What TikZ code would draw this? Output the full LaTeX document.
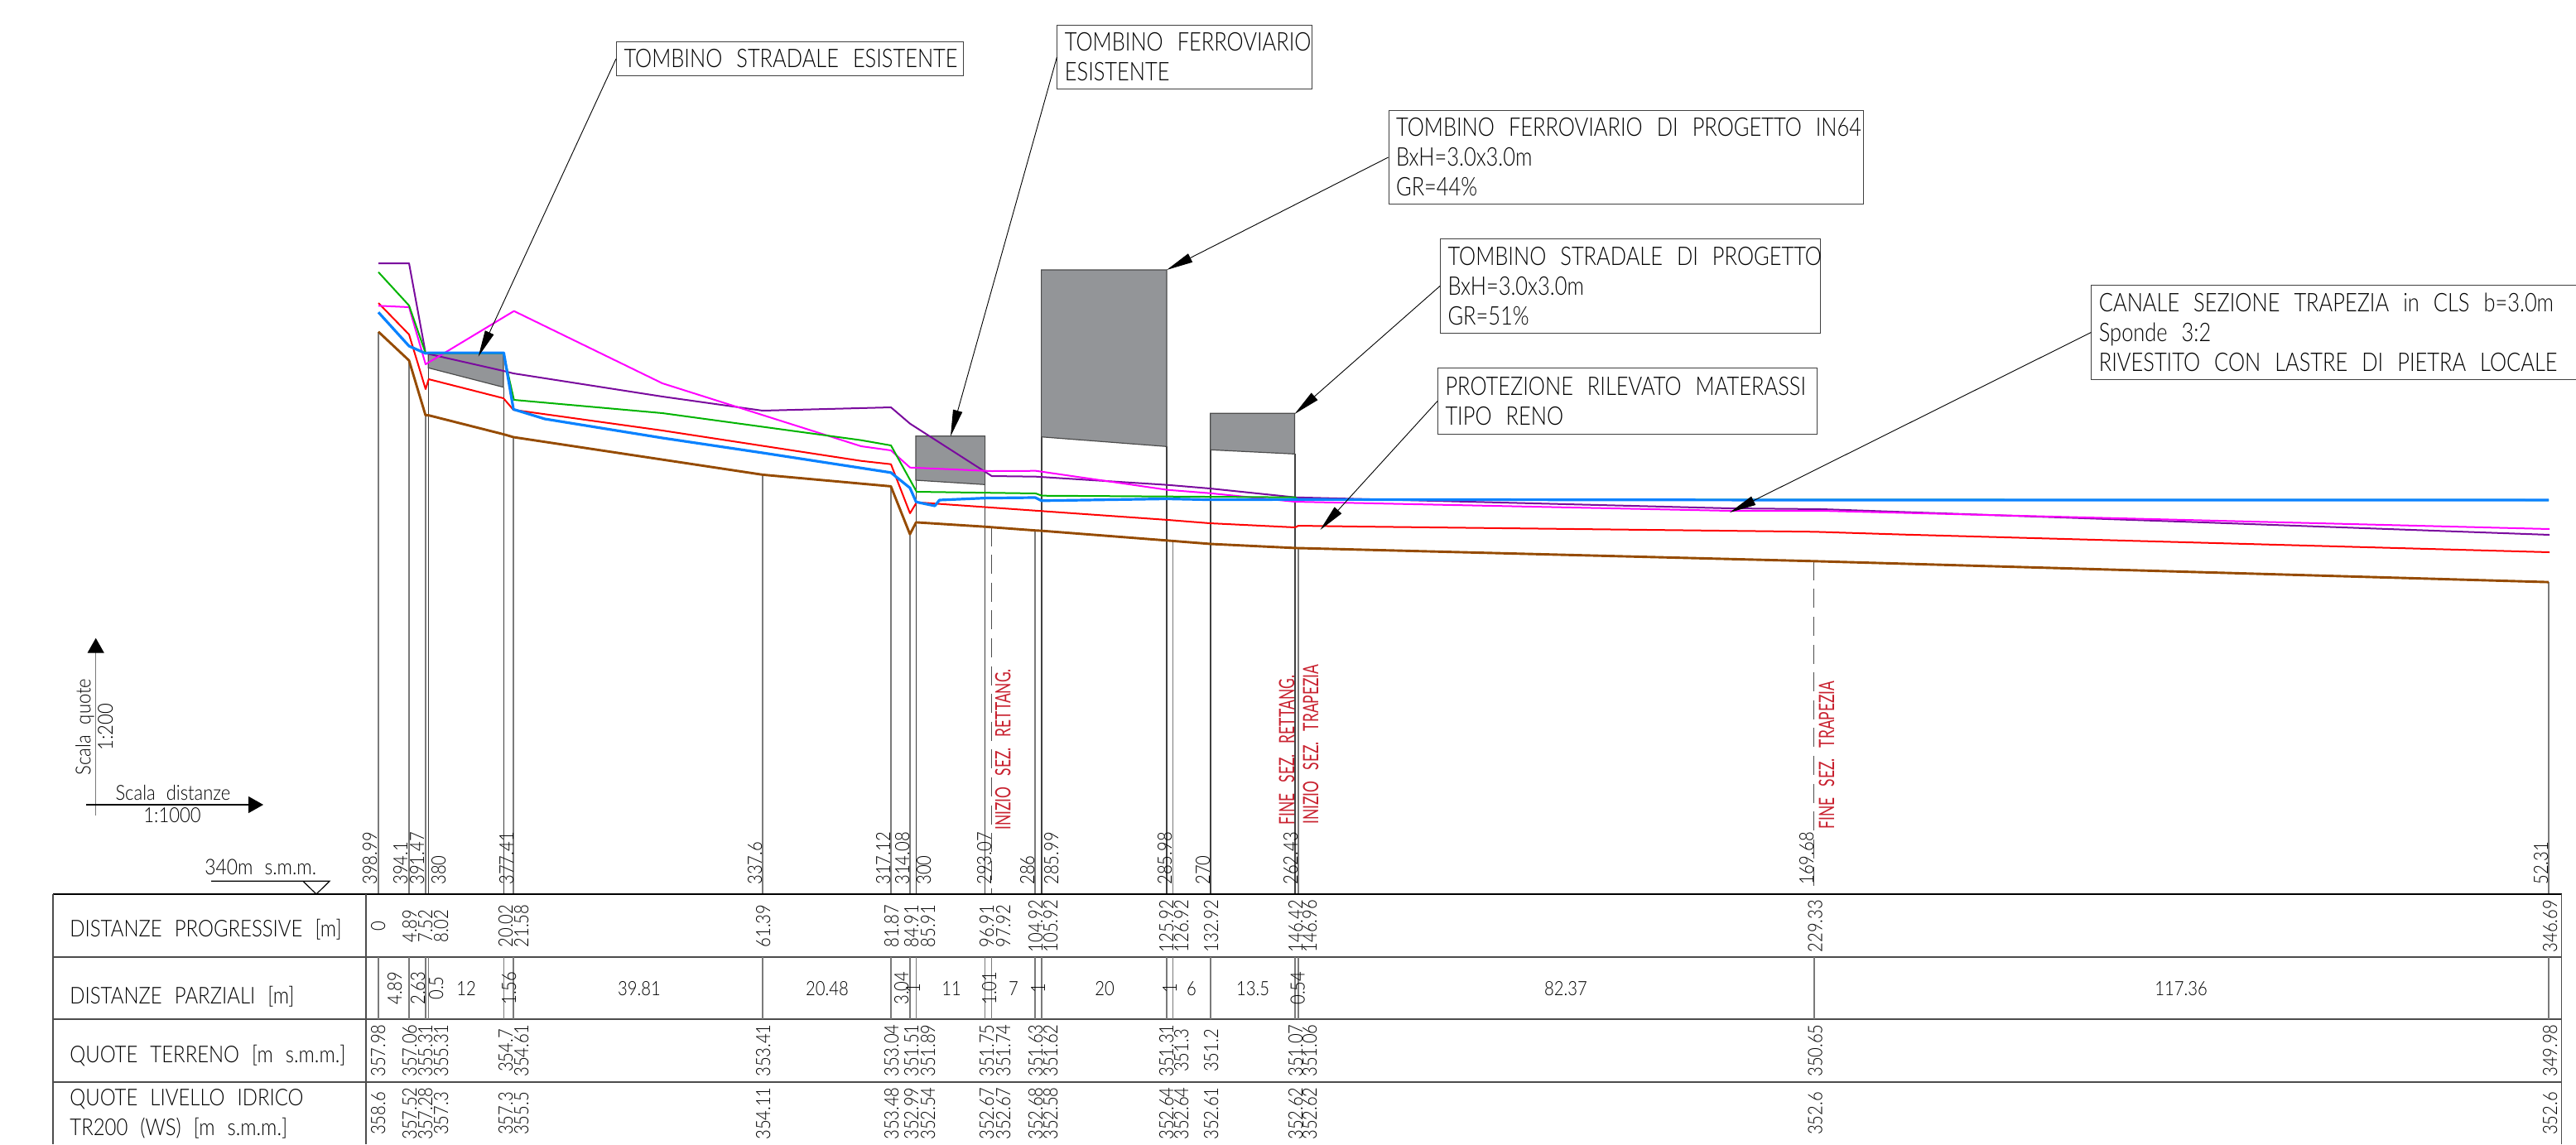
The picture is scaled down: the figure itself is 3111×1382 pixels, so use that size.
\documentclass[tikz,border=0pt]{standalone}
\usepackage{fontspec}
\usetikzlibrary{arrows.meta}
\setmainfont{Lato Light}
\newfontfamily\lblf[FakeStretch=.855]{Lato Light}
\newfontfamily\callf[FakeStretch=.82]{Lato Light}
\newfontfamily\numf[FakeStretch=.85]{Lato Light}
\newfontfamily\sclf[FakeStretch=.88]{Lato Light}
\newfontfamily\redf[FakeStretch=.68]{Lato}
\definecolor{ink}{HTML}{000000}
\definecolor{stn}{HTML}{7A7A7A}
\definecolor{fillgray}{HTML}{939598}
\definecolor{pPurple}{HTML}{7A0A9E}
\definecolor{pGreen}{HTML}{00B400}
\definecolor{pRed}{HTML}{FF0000}
\definecolor{pMag}{HTML}{FF00FF}
\definecolor{pBlue}{HTML}{0A82FF}
\definecolor{pBrown}{HTML}{964B00}
\definecolor{redtxt}{HTML}{C8202E}
\newcommand\gapA{\spaceskip 7.5pt\relax}
\newcommand\gapB{\spaceskip 6.5pt\relax}
\newcommand\gapC{\spaceskip 8.5pt\relax}
\newcommand\gapD{\spaceskip 7pt\relax}
\tikzset{
  stnline/.style={draw=stn,line width=.8pt},
  stndark/.style={draw=black!75,line width=.7pt},
  stndash/.style={draw=black!70,line width=.7pt,dash pattern=on 11.5pt off 5.3pt},
  tbl/.style={draw=black!70,line width=.8pt},
  tbltop/.style={draw=black,line width=.8pt},
  numv/.style={rotate=90,inner sep=0pt,text=ink,font=\numf\fontsize{11.9}{14}\selectfont},
  stnlab/.style={numv,anchor=base west},
  rowlab/.style={numv,anchor=base},
  numh/.style={inner sep=0pt,text=ink,anchor=base,font=\numf\fontsize{11.9}{14}\selectfont},
  rowhead/.style={inner sep=0pt,anchor=base west,text=ink,font=\lblf\fontsize{14}{18}\selectfont,execute at begin node=\gapA},
  redlab/.style={rotate=90,inner sep=0pt,anchor=base west,text=redtxt,font=\redf\fontsize{12.8}{14}\selectfont,execute at begin node=\gapB},
  callout/.style={draw=black!75,line width=.5pt,anchor=north west,inner xsep=4.5pt,inner ysep=0pt,align=left,text=ink,font=\callf\fontsize{15.5}{18}\selectfont,execute at begin node=\gapC},
  leader/.style={draw=black,line width=.45pt,-{Triangle[length=16pt,width=5.7pt]}},
  culvert/.style={fill=fillgray,draw=black!70,line width=.6pt},
  prof/.style={line width=1pt,line join=round},
  scaleax/.style={line width=.7pt,draw=stn,-{Triangle[length=9pt,width=10pt,fill=black,color=black]}},
  scaletxt/.style={inner sep=0pt,text=ink,font=\sclf\fontsize{12.5}{14}\selectfont,execute at begin node=\gapB}
}
\begin{document}
\begin{tikzpicture}[x=0.5pt,y=-0.5pt]
\clip (0,0) rectangle (3111,1382);
\fill[white] (0,0) rectangle (3111,1382);

% station lines, upper part
\foreach \x/\y in {457/400.7,494/435.4,513.9/501.6,620.1/528,921.1/573.4,1075.9/587.4,1098.9/645.2,1250.2/640.7,1416.6/653.2,1568.1/662.2,3078/703.1}
  \draw[stnline] (\x,\y) -- (\x,1080);
\foreach \x/\y in {517.6/444.3,608.4/467.7,1106.4/580,1189.6/585.3,1257.8/527.7,1409/539.3,1462/543.3,1564/548.3}
  \draw[stndark] (\x,\y) -- (\x,1080);
\foreach \x/\y in {1197.3/636.5,2190.7/677.8}
  \draw[stndash] (\x,\y) -- (\x,1080);

% culverts
\draw[culvert] (517.3,426.7) -- (608,426.7) -- (608,467.7) -- (517.3,444.3) -- cycle;
\draw[culvert] (1106,526.7) -- (1189.6,526.7) -- (1189.6,585.3) -- (1106,580) -- cycle;
\draw[culvert] (1257.6,326) -- (1409,326) -- (1409,539.3) -- (1257.6,527.7) -- cycle;
\draw[culvert] (1461.7,499.3) -- (1563.5,499.3) -- (1563.5,548.3) -- (1461.7,543.3) -- cycle;

% profile lines
\draw[prof,pRed] (457,366) -- (494,404) -- (514,470) -- (517.7,458) -- (608,481) -- (620,495) -- (800,520) -- (1040,556.7) -- (1076,560.7) -- (1099,620) -- (1107,606.7) -- (1410.5,628) -- (1461,632) -- (1564,637) -- (1568,635) -- (1640,636) -- (2191,642.3) -- (2300,645.7) -- (3079,667);
\draw[prof,pPurple] (457,318) -- (494,318) -- (514,426.7) -- (608,448) -- (620,451) -- (800,479) -- (921,496) -- (1076,492) -- (1099,511.7) -- (1197.7,575) -- (1251,575.7) -- (1410,585.7) -- (1461,590) -- (1564,600.7) -- (2089,614) -- (2200,615) -- (2653,630.7) -- (3079,646);
\draw[prof,pMag] (457,369.3) -- (494,371) -- (514,440) -- (620.7,375.7) -- (800,463) -- (1040,539) -- (1076,544) -- (1099,564.7) -- (1197.7,569) -- (1251,568.7) -- (1410,591.7) -- (1461,595.7) -- (1564,606) -- (2089,617) -- (2200,617) -- (3079,639);
\draw[prof,pGreen] (457,328.7) -- (494,369) -- (514,426.7) -- (608,426.7) -- (620.7,483) -- (800,499) -- (1040,531.7) -- (1076,538) -- (1107,594) -- (1251,596) -- (1258,598.7) -- (1564,600.7) -- (1568,603.4) -- (3078,604);
\draw[prof,pBlue,line width=1.6pt] (457,377.2) -- (494,418) -- (513.9,426.8) -- (517.6,426.1) -- (608.4,426.1) -- (620.1,494.4) -- (658,506) -- (800,529) -- (921.1,547) -- (1075.9,570.8) -- (1098.9,589.3) -- (1106.4,606.3) -- (1129,611) -- (1134.5,604) -- (1189.6,601.6) -- (1250.2,601) -- (1257.8,604.8) -- (1409,602.5) -- (1462,603.6) -- (1568.1,603.3) -- (2190.7,604) -- (3078,604);
\draw[prof,pBrown,line width=1.45pt] (457,400.7) -- (494,435.4) -- (513.9,501.6) -- (517.6,501.6) -- (608.4,524.6) -- (620.1,528) -- (921.1,573.4) -- (1075.9,587.4) -- (1098.9,645.2) -- (1106.4,630.9) -- (1189.6,636.2) -- (1250.2,640.7) -- (1257.8,641.1) -- (1409,652.8) -- (1462,657) -- (1564,661.9) -- (2190.7,677.8) -- (3078,703.1);

% table
\draw[tbltop] (64,1080) -- (3093.6,1080);
\foreach \y in {1156,1231,1307} \draw[tbl] (64,\y) -- (3093.6,\y);
\draw[tbl] (64,1080) -- (64,1382);
\draw[tbl] (442,1080) -- (442,1382);
\draw[tbl] (3093.6,1080) -- (3093.6,1382);
\foreach \x in {457,494,513.9,517.6,608.4,620.1,921.1,1075.9,1098.9,1106.4,1189.6,1197.3,1250.2,1257.8,1409,1416.6,1462,1564,1568.1,2190.7,3078}
  \draw[stnline] (\x,1156) -- (\x,1231);

% row heads
\node[rowhead] (h1) at (84,1131) {DISTANZE PROGRESSIVE [m]};
\node[rowhead] (h2) at (84,1212) {DISTANZE PARZIALI [m]};
\node[rowhead] (h3) at (84,1283) {QUOTE TERRENO [m s.m.m.]};
\node[rowhead] (h4) at (84,1335) {QUOTE LIVELLO IDRICO};
\node[rowhead] (h5) at (84,1371) {TR200 (WS) [m s.m.m.]};

% section labels above the table
\foreach \x/\t [count=\i] in {455/398.99,492/394.1,512/391.47,538/380,620/377.41,920/337.6,1075/317.12,1098/314.08,1124/300,1197/293.07,1249/286,1278/285.99,1415/285.98,1461/270,1567/262.43,2190/169.68,3077/52.31}
  \node[stnlab] (sec\i) at (\x,1069) {\t};

% row 1
\foreach \x/\t [count=\i] in {465/0,503/4.89,522/7.52,541/8.02,619/20.02,638/21.58,930/61.39,1085/81.87,1109/84.91,1129/85.91,1200/96.91,1220/97.92,1259/104.92,1277/105.92,1417/125.92,1435/126.92,1471/132.92,1573/146.42,1590/146.96,2200.6/229.33,3088/346.69}
  \node[rowlab] (a\i) at (\x,1118.5) {\t};
% row 2 rotated
\foreach \x/\t [count=\i] in {485/4.89,513/2.63,535/0.5,623/1.56,1097/3.04,1111/1,1203/1.01,1262/1,1421/1,1575.5/0.54}
  \node[rowlab] (b\i) at (\x,1193.5) {\t};
% row 2 horizontal
\foreach \x/\t [count=\i] in {563/12,772/39.81,999/20.48,1149/11,1224/7,1334/20,1439/6,1513/13.5,1891/82.37,2634/117.36}
  \node[numh] (c\i) at (\x,1202) {\t};
% row 3
\foreach \x/\t [count=\i] in {465/357.98,503/357.06,522/355.31,541/355.31,619/354.7,638/354.61,930/353.41,1085/353.04,1109/351.51,1129/351.89,1200/351.75,1220/351.74,1259/351.63,1277/351.62,1417/351.31,1435/351.3,1471/351.2,1573/351.07,1590/351.06,2200.6/350.65,3088/349.98}
  \node[rowlab] (d\i) at (\x,1269) {\t};
% row 4
\foreach \x/\t [count=\i] in {465/358.6,503/357.52,522/357.28,541/357.3,619/357.3,638/355.5,930/354.11,1085/353.48,1109/352.99,1129/352.54,1200/352.67,1220/352.67,1259/352.68,1277/352.58,1417/352.64,1435/352.64,1471/352.61,1573/352.62,1590/352.62,2200.6/352.6,3088/352.6}
  \node[rowlab] (e\i) at (\x,1345) {\t};

% red labels
\node[redlab] (r1) at (1220.4,1003) {INIZIO SEZ. RETTANG.};
\node[redlab] (r2) at (1563,996.7) {FINE SEZ. RETTANG.};
\node[redlab] (r3) at (1592,996) {INIZIO SEZ. TRAPEZIA};
\node[redlab] (r4) at (2215,1001.7) {FINE SEZ. TRAPEZIA};

% datum
\node[scaletxt,anchor=base west,font=\sclf\fontsize{13}{14}\selectfont,execute at begin node=\gapD] (datum) at (247,1056.7) {340m s.m.m.};
\coordinate (dl) at (255,1064.3);
\coordinate (dr) at (398,1064.3);
\coordinate (dm) at (366,1064.3);
\coordinate (dt) at (382,1080);
\draw[draw=black,line width=.6pt] (dl) -- (dr) -- (dt) -- (dm);

% scale axes
\coordinate (v0) at (115.7,985);
\coordinate (v1) at (115.7,770.7);
\coordinate (h0) at (104,972);
\coordinate (h1e) at (318,972);
\draw[scaleax] (v0) -- (v1);
\draw[scaleax,draw=black] (h0) -- (h1e);
\node[scaletxt,rotate=90,anchor=base] (sq) at (109.3,878) {Scala quote};
\node[scaletxt,rotate=90,anchor=base] (sqv) at (136,878) {1:200};
\node[scaletxt,anchor=base] (sd) at (209,966.7) {Scala distanze};
\node[scaletxt,anchor=base] (sdv) at (208,993) {1:1000};

% callouts
\node[callout,minimum width=209.5pt,minimum height=20.5pt,text width=200.5pt] (ca) at (744,50) {\mbox{TOMBINO STRADALE ESISTENTE}};
\node[callout,minimum width=153.8pt,minimum height=38.5pt,text width=144.8pt] (cb) at (1276.4,30) {\mbox{TOMBINO FERROVIARIO}\\ESISTENTE};
\node[callout,minimum width=286.9pt,minimum height=56.8pt,text width=277.9pt] (cc) at (1676.6,132.7) {\mbox{TOMBINO FERROVIARIO DI PROGETTO IN64}\\BxH=3.0x3.0m\\GR=44\%};
\node[callout,minimum width=229.3pt,minimum height=57pt,text width=220.3pt] (cd) at (1739,288) {\mbox{TOMBINO STRADALE DI PROGETTO}\\BxH=3.0x3.0m\\GR=51\%};
\node[callout,minimum width=229pt,minimum height=40pt,text width=220pt] (ce) at (1736,444) {\mbox{PROTEZIONE RILEVATO MATERASSI}\\TIPO RENO};
\node[callout,minimum width=310pt,minimum height=56.7pt,text width=301pt] (cf) at (2525.4,344.3) {\mbox{CANALE SEZIONE TRAPEZIA in CLS b=3.0m}\\Sponde 3:2\\\mbox{RIVESTITO CON LASTRE DI PIETRA LOCALE}};
\coordinate (ta) at (577.7,430.7);
\coordinate (tb) at (1148,527);
\coordinate (tc) at (1409,326);
\coordinate (td) at (1563.5,500);
\coordinate (te) at (1594.4,640);
\coordinate (tf) at (2089,619);
\draw[leader] (ca.west) -- (ta);
\draw[leader] (cb.west) -- (tb);
\draw[leader] (cc.west) -- (tc);
\draw[leader] (cd.west) -- (td);
\draw[leader] (ce.west) -- (te);
\draw[leader] (cf.west) -- (tf);
\end{tikzpicture}
\end{document}
